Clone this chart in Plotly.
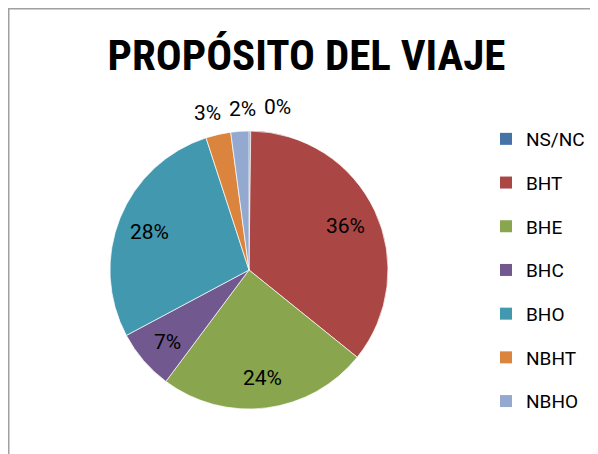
import math
import plotly.graph_objects as go

labels = ["NS/NC", "BHT", "BHE", "BHC", "BHO", "NBHT", "NBHO"]
values = [0.2, 35.6, 24.4, 7.0, 27.8, 2.9, 2.1]
colors = ["#4572A7", "#AA4643", "#89A54E", "#71588F", "#4198AF", "#DB843D", "#93A9CF"]
label_inside = [False, True, True, True, True, False, False]

W, H = 598, 454
OFF = 8  # page body margin in the browser
CX, CY, R = 249 - OFF, 270 - OFF, 139  # pie centre / radius in figure pixels
LABEL_FONT = "Roboto, Liberation Sans, sans-serif"
TITLE_FONT = "Roboto Condensed, Open Sans Condensed, Liberation Sans, sans-serif"
# nudges for crowded outside labels (layout only)
label_xshift = {"NS/NC": 27, "NBHT": -5, "NBHO": 4}
label_yshift = {"NS/NC": -1, "NBHT": -3, "NBHO": -3}

fig = go.Figure()
fig.add_trace(go.Pie(
    labels=labels, values=values, sort=False, direction="clockwise", rotation=0,
    marker=dict(colors=colors, line=dict(width=0.7, color="white")),
    textinfo="none", showlegend=False, hoverinfo="label+percent",
    domain=dict(x=[(CX - R) / W, (CX + R) / W],
                y=[(H - CY - R) / H, (H - CY + R) / H]),
))

for lab, col in zip(labels, colors):
    fig.add_trace(go.Scatter(
        x=[None], y=[None], mode="markers", name=lab, legendgroup=lab,
        marker=dict(symbol="square", size=13, color=col), showlegend=True,
    ))

# percentage labels placed on the slice mid-angles computed from the values
total = sum(values)
anns = []
cum = 0.0
for lab, v, inside in zip(labels, values, label_inside):
    mid = (cum + v / 2) / total * 2 * math.pi
    cum += v
    r = R * (0.77 if inside else 1.18)
    px = CX + r * math.sin(mid)
    py = CY - r * math.cos(mid)
    anns.append(dict(
        text=f"{round(v / total * 100)}%", x=px / W, y=1 - py / H,
        xref="paper", yref="paper", xanchor="center", yanchor="middle",
        showarrow=False, xshift=label_xshift.get(lab, 0), yshift=label_yshift.get(lab, -2),
        font=dict(family=LABEL_FONT, size=21, color="#000000"),
    ))

fig.update_layout(
    width=W, height=H,
    margin=dict(l=0, r=0, t=0, b=0),
    paper_bgcolor="white", plot_bgcolor="white",
    xaxis=dict(visible=False), yaxis=dict(visible=False),
    title=dict(text="<b>PROPÓSITO DEL VIAJE</b>", x=(306.5 - OFF) / W, xanchor="center",
               y=1 - (55 - OFF) / H, yanchor="middle",
               font=dict(family=TITLE_FONT, size=43, color="#000000")),
    legend=dict(x=(486 - OFF) / W, y=1 - 112 / H, xanchor="left", yanchor="top",
                font=dict(family=LABEL_FONT, size=19, color="#000000"),
                tracegroupgap=16, itemsizing="constant", bgcolor="rgba(0,0,0,0)"),
    annotations=anns,
    shapes=[dict(type="rect", xref="paper", yref="paper",
                 x0=0.75 / W, x1=1.1, y0=-0.1, y1=1 - 0.75 / H,
                 line=dict(color="#A0A0A0", width=1.5), fillcolor="rgba(0,0,0,0)")],
)

fig.write_html("out.html")
